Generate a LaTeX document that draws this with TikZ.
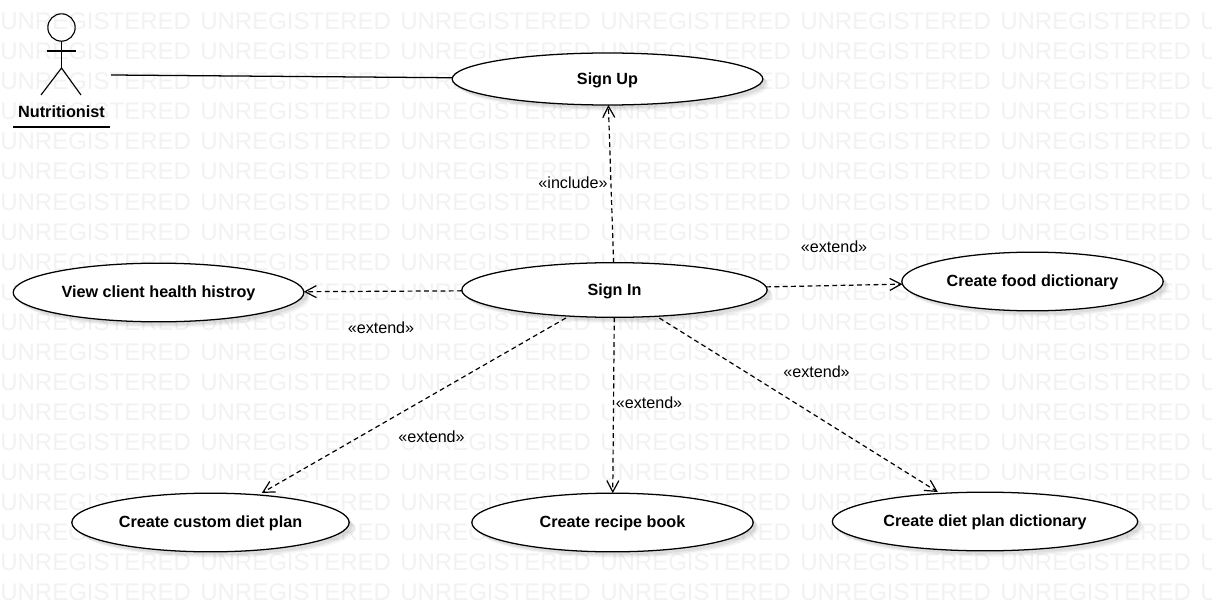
\documentclass[tikz,border=0pt]{standalone}
\usepackage{fontspec}
\setmainfont{Liberation Sans}
\usetikzlibrary{arrows.meta,shapes.geometric,shadows,calc}
\definecolor{wmgray}{HTML}{F2F2F2}
\tikzset{
  wm/.style={anchor=base west,inner sep=0pt,text=wmgray,font=\fontsize{18pt}{18pt}\selectfont},
  softshade/.style={drop shadow={shadow xshift=3.5pt,shadow yshift=-3.5pt,fill=black,opacity=.05},
                    drop shadow={shadow xshift=2.5pt,shadow yshift=-2.5pt,fill=black,opacity=.05},
                    drop shadow={shadow xshift=4.5pt,shadow yshift=-4.5pt,fill=black,opacity=.03}},
  usecase/.style={ellipse,draw=black,line width=.95pt,fill=white,inner sep=0pt,outer sep=0pt,softshade,
                  text height=10.1pt,text depth=2.5pt,
                  font=\fontsize{12.13pt}{12pt}\selectfont\bfseries},
  dep/.style={line width=.9pt,dash pattern=on 3.6pt off 2.6pt,
              -{Straight Barb[length=8.5pt,width=9pt,line width=.9pt]}},
  steretype/.style={font=\fontsize{12.1pt}{12pt}\selectfont,inner sep=0pt},
  stick/.style={line width=.85pt},
}
\begin{document}
\begin{tikzpicture}[x=.75pt,y=-.75pt]
\useasboundingbox (0,0) rectangle (1212,602);
\fill[white] (0,0) rectangle (1212,602);
\foreach \r in {0,...,19}{
  \foreach \c in {0,...,6}{
    \node[wm,name=wm-\r-\c] at ({200*\c},{30+30*\r}) {UNREGISTERED};
  }
}
% actor
\node[circle,draw=black,stick,fill=none,minimum size=20.5pt,inner sep=0pt,outer sep=0pt] (head) at (61.5,27.5) {};
\coordinate (hip) at (61.5,68);
\coordinate (armL) at (47,51);
\coordinate (armR) at (76,51);
\coordinate (legL) at (41,95);
\coordinate (legR) at (81,95);
\draw[stick] (head.south) -- (hip);
\draw[stick] (armL) -- (armR);
\draw[stick] (legL) -- (hip) -- (legR);
\node[inner sep=0pt,font=\fontsize{12.2pt}{12pt}\selectfont\bfseries] (actor) at (61.5,112) {Nutritionist};
\coordinate (ulL) at (13,127);
\coordinate (ulR) at (110,127);
\draw[stick] (ulL) -- (ulR);
\coordinate (actorend) at (111,75);
% use cases
\node[usecase,minimum width=233pt,minimum height=39pt] (signup) at (607.5,79) {Sign Up};
\node[usecase,minimum width=229pt,minimum height=41pt] (signin) at (614.5,290) {Sign In};
\node[usecase,minimum width=218pt,minimum height=44pt] (view) at (158.5,292.5) {View client health histroy};
\node[usecase,minimum width=196pt,minimum height=44pt] (food) at (1032.5,281.5) {Create food dictionary};
\node[usecase,minimum width=208pt,minimum height=44pt] (custom) at (210.5,522.5) {Create custom diet plan};
\node[usecase,minimum width=211pt,minimum height=44pt] (recipe) at (612.5,522.5) {Create recipe book};
\node[usecase,minimum width=229pt,minimum height=44pt] (dietdict) at (985,521.5) {Create diet plan dictionary};
% connectors
\draw[line width=.95pt] (actorend) -- (signup);
\draw[dep] (signin) -- (signup);
\draw[dep] (signin) -- (view);
\draw[dep] (signin) -- (food);
\draw[dep] ($(signin)!.1204!(custom)$) -- ($(signin)!.873!(custom)$);
\draw[dep] (signin) -- (recipe);
\draw[dep] ($(signin)!.121!(dietdict)$) -- ($(signin)!.8726!(dietdict)$);
% labels
\node[steretype] (l1) at (573,183) {«include»};
\node[steretype] (l2) at (834,247) {«extend»};
\node[steretype] (l3) at (381,328) {«extend»};
\node[steretype] (l4) at (816.5,372) {«extend»};
\node[steretype] (l5) at (649,403) {«extend»};
\node[steretype] (l6) at (431.5,437) {«extend»};
\end{tikzpicture}
\end{document}
